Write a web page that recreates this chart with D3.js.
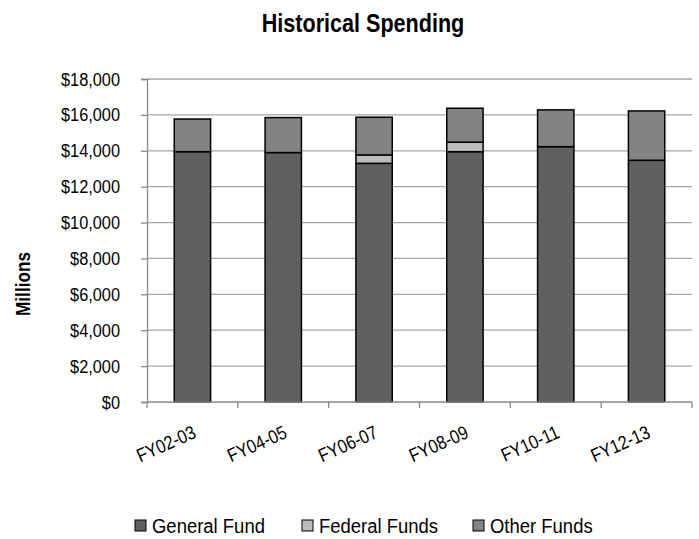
<!DOCTYPE html>
<html>
<head>
<meta charset="utf-8">
<script src="https://cdn.jsdelivr.net/npm/d3@7"></script>
<style>
  body { margin: 0; background: #fff; }
  text { font-family: "Liberation Sans", Arial, sans-serif; }
</style>
</head>
<body>
<div id="chart"></div>
<script>
// values in millions
var years = ["FY02-03", "FY04-05", "FY06-07", "FY08-09", "FY10-11", "FY12-13"];
var generalFund = [13950, 13900, 13300, 13950, 14230, 13470];
var federalFunds = [0, 0, 470, 530, 0, 0];
var otherFunds = [1820, 1950, 2100, 1890, 2050, 2750];
var yTicks = [0, 2000, 4000, 6000, 8000, 10000, 12000, 14000, 16000, 18000];
var seriesNames = ["General Fund", "Federal Funds", "Other Funds"];
var colors = ["#606060", "#bcbcbc", "#838383"];

var W = 699, H = 539;
var margin = {left: 147, right: 7, top: 79, bottom: 137};
var narrow = 0.86; // the source font is a condensed sans, squeeze Liberation Sans to match

var svg = d3.select("#chart").append("svg")
	.attr("width", W)
	.attr("height", H);

var rows = years.map(function(y, i) {
	return {year: y, "General Fund": generalFund[i], "Federal Funds": federalFunds[i], "Other Funds": otherFunds[i]};
});
var stacked = d3.stack().keys(seriesNames)(rows);

var x = d3.scaleBand()
	.domain(years)
	.range([margin.left, W - margin.right])
	.paddingInner(0.6)
	.paddingOuter(0.3);

var y = d3.scaleLinear()
	.domain([0, 18000])
	.range([H - margin.bottom, margin.top]);

// gridlines
svg.append("g").selectAll("line")
	.data(yTicks.slice(1))
	.enter().append("line")
	.attr("x1", margin.left)
	.attr("x2", W - margin.right)
	.attr("y1", function(d) { return y(d); })
	.attr("y2", function(d) { return y(d); })
	.attr("stroke", "#a6a6a6")
	.attr("stroke-width", 1.3);

// y axis
var yAxis = svg.append("g")
	.attr("transform", "translate(" + margin.left + ",0)")
	.call(d3.axisLeft(y).tickValues(yTicks).tickSize(6)
		.tickFormat(function(d) { return "$" + d3.format(",")(d); }));
yAxis.select(".domain").attr("stroke", "#888").attr("stroke-width", 1.3);
yAxis.selectAll(".tick line").attr("stroke", "#888").attr("stroke-width", 1.3);
yAxis.selectAll(".tick text")
	.attr("x", null)
	.attr("transform", "translate(-27,0) scale(" + narrow + ",1)")
	.attr("font-size", 19).attr("fill", "#000")
	.style("font-family", "Liberation Sans, Arial, sans-serif");

// bars
svg.append("g").selectAll("g")
	.data(stacked)
	.enter().append("g")
	.attr("fill", function(d, i) { return colors[i]; })
	.selectAll("rect")
	.data(function(d) { return d.filter(function(s) { return s[1] - s[0] > 0; }); })
	.enter().append("rect")
	.attr("x", function(d) { return x(d.data.year); })
	.attr("width", x.bandwidth())
	.attr("y", function(d) { return y(d[1]); })
	.attr("height", function(d) { return y(d[0]) - y(d[1]); })
	.attr("stroke", "#000")
	.attr("stroke-width", 1.5);

// x axis with ticks on category boundaries
var xAxisG = svg.append("g");
xAxisG.append("line")
	.attr("x1", margin.left).attr("x2", W - margin.right)
	.attr("y1", y(0)).attr("y2", y(0))
	.attr("stroke", "#888").attr("stroke-width", 1.3);
var bounds = d3.range(years.length + 1).map(function(i) {
	return margin.left + i * (W - margin.left - margin.right) / years.length;
});
xAxisG.selectAll(".xt")
	.data(bounds)
	.enter().append("line")
	.attr("x1", function(d) { return d; }).attr("x2", function(d) { return d; })
	.attr("y1", y(0)).attr("y2", y(0) + 6)
	.attr("stroke", "#888").attr("stroke-width", 1.3);
xAxisG.selectAll(".xl")
	.data(years)
	.enter().append("text")
	.attr("transform", function(d) {
		return "translate(" + (x(d) + x.bandwidth() / 2 + 5) + "," + (y(0) + 35) + ") rotate(-24) scale(" + narrow + ",1)";
	})
	.attr("text-anchor", "end")
	.attr("font-size", 19)
	.text(function(d) { return d; });

// title
svg.append("text")
	.attr("transform", "translate(363,32) scale(0.83,1)")
	.attr("text-anchor", "middle")
	.attr("font-size", 26)
	.attr("font-weight", "bold")
	.text("Historical Spending");

// y label
svg.append("text")
	.attr("transform", "translate(30,284) rotate(-90) scale(" + narrow + ",1)")
	.attr("text-anchor", "middle")
	.attr("font-size", 20)
	.attr("font-weight", "bold")
	.text("Millions");

// legend
var legendX = [135, 302, 473];
var legend = svg.append("g").selectAll("g")
	.data(seriesNames)
	.enter().append("g")
	.attr("transform", function(d, i) { return "translate(" + legendX[i] + ",520)"; });
legend.append("rect")
	.attr("width", 11).attr("height", 11)
	.attr("fill", function(d, i) { return colors[i]; })
	.attr("stroke", "#000").attr("stroke-width", 1);
legend.append("text")
	.attr("transform", "translate(17,13) scale(0.88,1)")
	.attr("font-size", 21)
	.text(function(d) { return d; });
</script>
</body>
</html>
